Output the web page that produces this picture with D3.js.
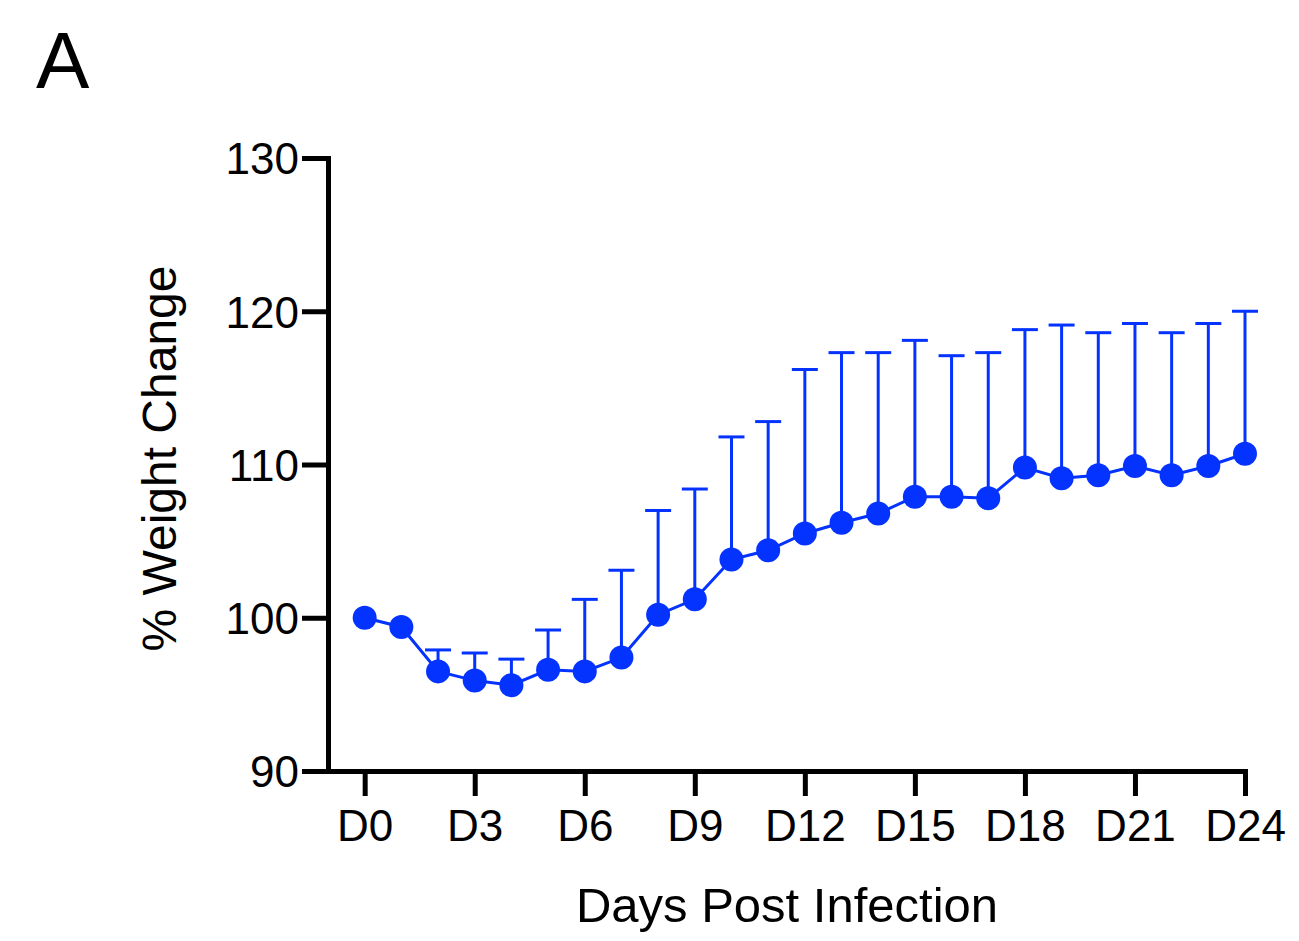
<!DOCTYPE html>
<html>
<head>
<meta charset="utf-8">
<!-- Load d3.js -->
<script src="https://d3js.org/d3.v7.min.js"></script>

<style type="text/css">
  body { margin: 0; background: #ffffff; }
  svg { display: block; }
  text { font-family: "Liberation Sans", Arial, Helvetica, sans-serif; fill: #000; }
</style>
</head>

<body>
<div id="chartHere"></div>

<script>

// days post infection (D0..D24)
var days = [0,1,2,3,4,5,6,7,8,9,10,11,12,13,14,15,16,17,18,19,20,21,22,23,24];

// mean % weight change
var meanWeight = [100.0, 99.4, 96.5, 95.9, 95.6, 96.6, 96.5, 97.4, 100.2, 101.2,
                  103.8, 104.4, 105.5, 106.2, 106.8, 107.9, 107.9, 107.8, 109.8, 109.1,
                  109.3, 109.9, 109.3, 109.9, 110.7];

// top of the error bar (mean + SD)
var upperWeight = [100.0, 99.4, 97.9, 97.7, 97.3, 99.2, 101.2, 103.1, 107.0, 108.4,
                   111.8, 112.8, 116.2, 117.3, 117.3, 118.1, 117.1, 117.3, 118.8, 119.1,
                   118.6, 119.2, 118.6, 119.2, 120.0];

var xTicks = [0,3,6,9,12,15,18,21,24];
var yTicks = [90,100,110,120,130];

var dims = {"width": 1299, "height": 941};
var plot = {"left": 328, "right": 1245, "top": 158, "bottom": 771};
var blue = "#0433ff";

// one row per day, built from the arrays above
var points = days.map(function (d, i) {
  return {"day": d, "mean": meanWeight[i], "upper": upperWeight[i]};
});
var withErr = points.filter(function (p) { return p.upper > p.mean; });

var svg = d3.select("div#chartHere")
  .append("svg")
    .attr("width", dims.width)
    .attr("height", dims.height);

var xScale = d3.scaleLinear()
    .domain([-1, 24])
    .range([plot.left, plot.right]);

var yScale = d3.scaleLinear()
    .domain([90, 130])
    .range([plot.bottom, plot.top]);

// y axis
var yAxis = d3.axisLeft(yScale)
    .tickValues(yTicks)
    .tickSize(26)
    .tickSizeOuter(0)
    .tickPadding(3);

var gy = svg.append("g")
    .attr("transform", "translate(" + plot.left + ",0)")
    .call(yAxis);

// x axis
var xAxis = d3.axisBottom(xScale)
    .tickValues(xTicks)
    .tickSize(25)
    .tickSizeOuter(0)
    .tickPadding(12)
    .tickFormat(function (d) { return "D" + d; });

var gx = svg.append("g")
    .attr("transform", "translate(0," + plot.bottom + ")")
    .call(xAxis);

[gx, gy].forEach(function (g) {
  g.selectAll("path.domain").attr("stroke", "#000").attr("stroke-width", 5)
    .attr("stroke-linecap", "square");
  g.selectAll(".tick line").attr("stroke", "#000").attr("stroke-width", 5);
  g.selectAll(".tick text")
    .attr("font-size", 44)
    .attr("fill", "#000")
    .style("font-family", "'Liberation Sans', Arial, sans-serif");
});
gy.selectAll(".tick text").attr("dy", "0.36em");
gx.selectAll(".tick text").attr("dy", "0.74em");

// error bars (upper only)
var bars = svg.append("g");

bars.selectAll("line.err")
    .data(withErr).enter().append("line")
    .attr("class", "err")
    .attr("x1", function (p) { return xScale(p.day); })
    .attr("x2", function (p) { return xScale(p.day); })
    .attr("y1", function (p) { return yScale(p.mean); })
    .attr("y2", function (p) { return yScale(p.upper); })
    .attr("stroke", blue)
    .attr("stroke-width", 3);

bars.selectAll("line.cap")
    .data(withErr).enter().append("line")
    .attr("class", "cap")
    .attr("x1", function (p) { return xScale(p.day) - 13; })
    .attr("x2", function (p) { return xScale(p.day) + 13; })
    .attr("y1", function (p) { return yScale(p.upper); })
    .attr("y2", function (p) { return yScale(p.upper); })
    .attr("stroke", blue)
    .attr("stroke-width", 3);

// connecting line
var line = d3.line()
    .x(function (p) { return xScale(p.day); })
    .y(function (p) { return yScale(p.mean); });

svg.append("path")
    .datum(points)
    .attr("d", line)
    .attr("fill", "none")
    .attr("stroke", blue)
    .attr("stroke-width", 3);

// points
svg.selectAll("circle")
    .data(points).enter().append("circle")
    .attr("cx", function (p) { return xScale(p.day); })
    .attr("cy", function (p) { return yScale(p.mean); })
    .attr("r", 12)
    .attr("fill", blue);

// axis titles
svg.append("text")
    .attr("x", 787)
    .attr("y", 922)
    .attr("text-anchor", "middle")
    .attr("font-size", 49)
    .text("Days Post Infection");

svg.append("text")
    .attr("transform", "translate(176," + ((plot.top + plot.bottom) / 2 - 6) + ") rotate(-90)")
    .attr("text-anchor", "middle")
    .attr("font-size", 48)
    .text("% Weight Change");

// panel letter
svg.append("text")
    .attr("x", 36)
    .attr("y", 88)
    .attr("font-size", 80)
    .text("A");

</script>
</body>
</html>
